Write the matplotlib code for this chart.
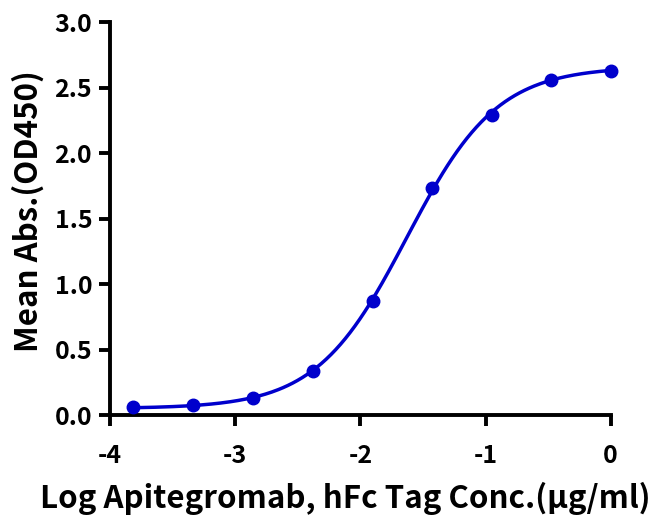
import numpy as np
import matplotlib
matplotlib.use("Agg")
from matplotlib import pyplot as plt

# data
log_conc = [-3.82, -3.34, -2.86, -2.38, -1.90, -1.43, -0.95, -0.48, 0.0]
mean_abs = [0.06, 0.08, 0.13, 0.34, 0.87, 1.73, 2.29, 2.56, 2.63]

# 4PL fit parameters (bottom, top, logEC50, hill)
fit_bottom = 0.05
fit_top = 2.66
fit_logec50 = -1.63
fit_hill = 1.2

x_ticks = [-4, -3, -2, -1, 0]
y_ticks = [0.0, 0.5, 1.0, 1.5, 2.0, 2.5, 3.0]

color = '#0000cc'
plt.rcParams['font.family'] = ['Noto Sans CJK SC', 'DejaVu Sans']
wt = 'bold'

fig = plt.figure(figsize=(6.56, 5.15), dpi=100)
ax = fig.add_axes([0.168, 0.194, 0.763, 0.763])

xs = np.linspace(min(log_conc), max(log_conc), 300)
ys = fit_bottom + (fit_top - fit_bottom) / (1 + 10 ** ((fit_logec50 - xs) * fit_hill))
ax.plot(xs, ys, color=color, lw=2.5, zorder=2)
ax.plot(log_conc, mean_abs, 'o', color=color, ms=9, zorder=3, clip_on=False)

ax.set_xlim(-4, 0)
ax.set_ylim(0, 3.0)
ax.set_xticks(x_ticks)
ax.set_xticklabels([str(t) for t in x_ticks], fontweight=wt)
ax.set_yticks(y_ticks)
ax.set_yticklabels(['%.1f' % t for t in y_ticks], fontweight=wt)

for s in ['top', 'right']:
    ax.spines[s].set_visible(False)
for s in ['left', 'bottom']:
    ax.spines[s].set_linewidth(2.8)
ax.tick_params(width=2.8, length=8, labelsize=18)
ax.tick_params(axis='x', pad=13)
ax.tick_params(axis='y', pad=5)

ax.set_xlabel('Log Apitegromab, hFc Tag Conc.(\u03bcg/ml)', fontsize=22.5, fontweight=wt)
ax.set_ylabel('Mean Abs.(OD450)', fontsize=22.5, fontweight=wt)
ax.xaxis.set_label_coords(0.47, -0.17)
ax.yaxis.set_label_coords(-0.13, 0.52)

fig.savefig('out.png', dpi=100)
